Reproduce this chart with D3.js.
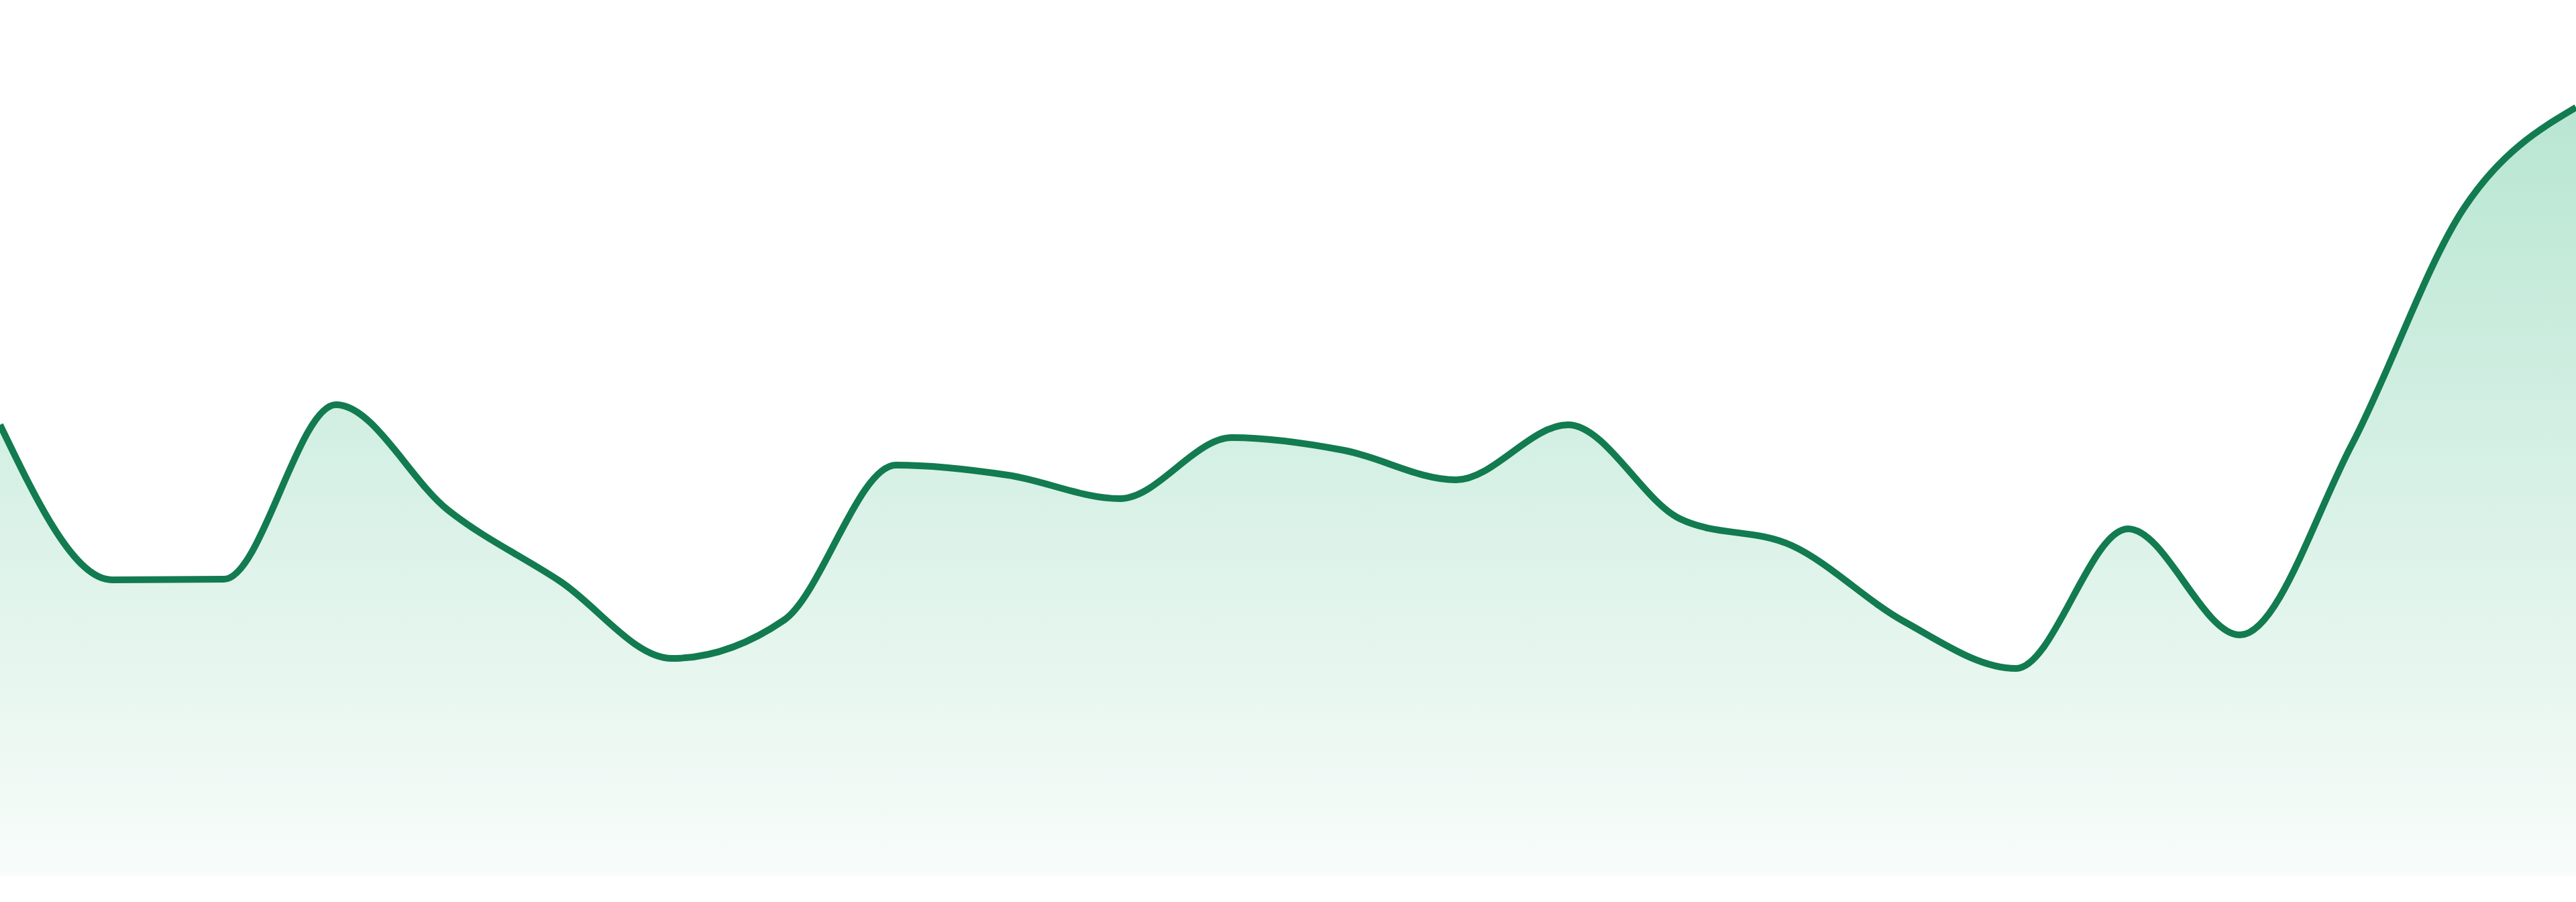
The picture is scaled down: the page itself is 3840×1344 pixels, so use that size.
<!DOCTYPE html>
<html>
<head>
<meta charset="utf-8">
<script src="https://cdn.jsdelivr.net/npm/d3@7"></script>
<style>
  html, body { margin: 0; padding: 0; background: #ffffff; }
  svg { display: block; }
</style>
</head>
<body>
<div id="chart"></div>
<script>
// ---- data ----
const categories = ["1","2","3","4","5","6","7","8","9","10","11","12","13","14","15","16","17","18","19","20","21","22","23","24"];
const values = [67.2, 44.1, 44.2, 70.2, 54.5, 43.9, 32.4, 38.1, 61.2, 59.7, 56.2, 65.3, 63.4, 59.0, 67.2, 53.2, 49.2, 37.9, 30.9, 51.7, 35.9, 64.3, 99.5, 114.5];

// ---- layout ----
const W = 3840, H = 1344;
const baseY = 1305, topY = 160;

const svg = d3.select("#chart").append("svg")
  .attr("width", W).attr("height", H);

const x = d3.scalePoint().domain(categories).range([0, W]);
const y = d3.scaleLinear().domain([0, d3.max(values)]).range([baseY, topY]);

const data = categories.map((c, i) => ({ c, v: values[i] }));

const defs = svg.append("defs");
const grad = defs.append("linearGradient")
  .attr("id", "fillGrad")
  .attr("gradientUnits", "userSpaceOnUse")
  .attr("x1", 0).attr("x2", 0)
  .attr("y1", y(d3.max(values))).attr("y2", baseY);
grad.append("stop").attr("offset", "0%").attr("stop-color", "rgb(184,230,210)");
grad.append("stop").attr("offset", "100%").attr("stop-color", "rgb(248,252,250)");

const area = d3.area()
  .x(d => x(d.c))
  .y0(y(0))
  .y1(d => y(d.v))
  .curve(d3.curveMonotoneX);

const line = d3.line()
  .x(d => x(d.c))
  .y(d => y(d.v))
  .curve(d3.curveMonotoneX);

svg.append("path")
  .datum(data)
  .attr("d", area)
  .attr("fill", "url(#fillGrad)");

svg.append("path")
  .datum(data)
  .attr("d", line)
  .attr("fill", "none")
  .attr("stroke", "#127b50")
  .attr("stroke-width", 10);
</script>
</body>
</html>
